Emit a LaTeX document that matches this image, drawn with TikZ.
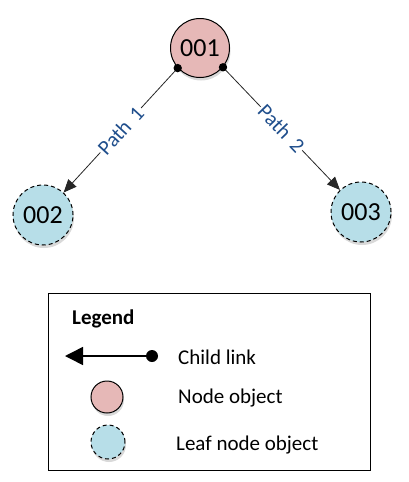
\documentclass[tikz,border=0pt]{standalone}
\usepackage{fontspec}
\setmainfont{Carlito}
\usetikzlibrary{arrows.meta,shadows}
\definecolor{nodepink}{RGB}{230,184,183}
\definecolor{leafblue}{RGB}{183,222,232}
\definecolor{pathblue}{RGB}{31,78,140}
\tikzset{
  objnode/.style={circle,draw=black,line width=1pt,fill=nodepink,inner sep=0pt,
    minimum size=#1,font=\fontsize{26}{29}\selectfont,
    drop shadow={shadow xshift=1pt,shadow yshift=-3pt,opacity=0.3,fill=gray}},
  leafnode/.style={objnode=#1,fill=leafblue,dash pattern=on 4pt off 3pt},
  childlink/.style={line width=0.8pt,draw=black!85,-{Triangle[length=13pt,width=11pt]}},
  linkdot/.style={fill=black},
  pathlabel/.style={midway,sloped,fill=white,inner sep=1.5pt,text=pathblue,font=\fontsize{21}{23}\selectfont},
  legendtext/.style={anchor=west,font=\fontsize{21}{24}\selectfont,inner sep=0pt},
}
\begin{document}
\begin{tikzpicture}[x=1pt,y=-1pt]
\useasboundingbox (0,0) rectangle (409,482);
% tree
\node[objnode=59pt] (n1) at (200,48) {001};
\node[leafnode=60pt] (n2) at (43,215) {002};
\node[leafnode=60pt] (n3) at (361,212) {003};
\draw[childlink] (n1.222) -- (n2) node[pathlabel] {Path\hspace{8pt}1};
\draw[childlink] (n1.320) -- (n3) node[pathlabel] {Path\hspace{8pt}2};
\fill[linkdot] (n1.222) circle (4.2pt);
\fill[linkdot] (n1.320) circle (4.2pt);
% legend
\node[draw=black,line width=1pt,minimum width=322pt,minimum height=177pt,inner sep=0pt] (legend) at (209,381.5) {};
\node[legendtext,font=\bfseries\fontsize{21}{24}\selectfont] (legtitle) at (72,319) {Legend};
\coordinate (lstart) at (152,356);
\coordinate (lend) at (65,356);
\draw[line width=1.5pt,-{Triangle[length=18pt,width=18pt]}] (lstart) -- (lend);
\fill[linkdot] (lstart) circle (6pt);
\node[legendtext] (lchild) at (178,357) {Child link};
\node[objnode=32pt] (lnode) at (107,397) {};
\node[legendtext] (lnodetext) at (178,398) {Node object};
\node[leafnode=34pt] (lleaf) at (108,442) {};
\node[legendtext] (lleaftext) at (176,445) {Leaf node object};
\end{tikzpicture}
\end{document}
